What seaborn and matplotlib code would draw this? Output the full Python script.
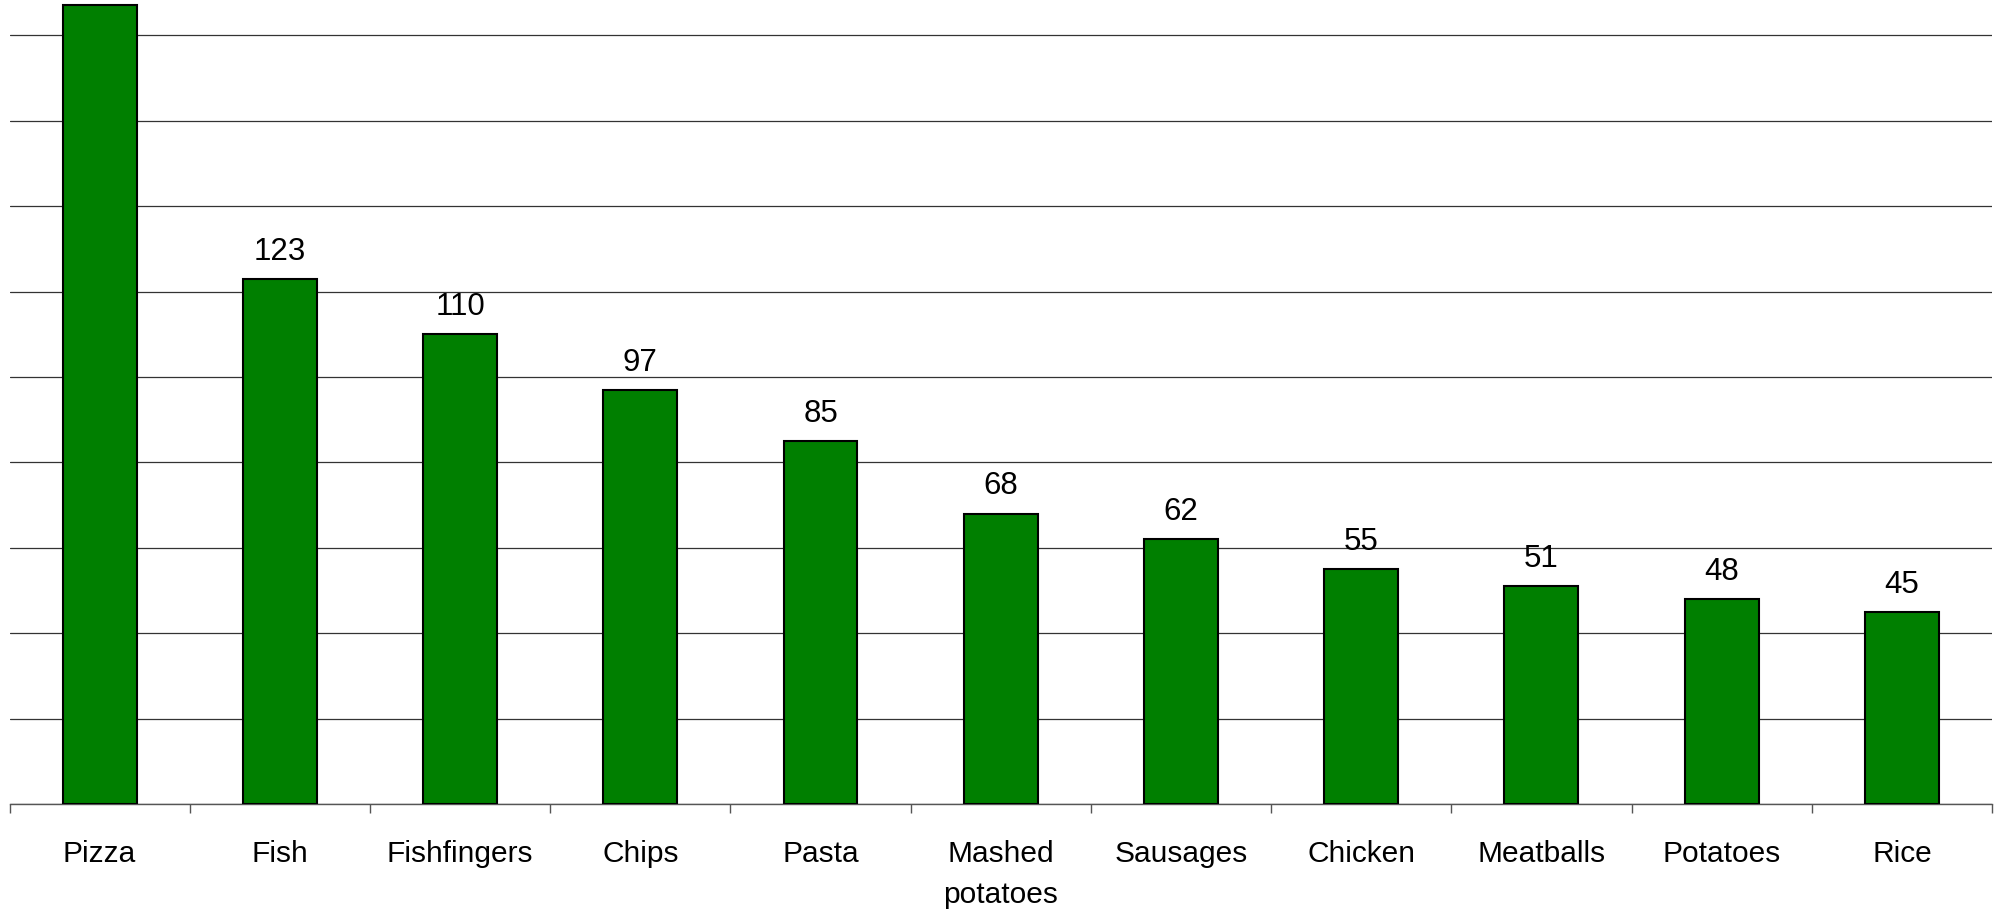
import matplotlib
matplotlib.use("Agg")
import matplotlib.pyplot as plt
import seaborn as sns
import pandas as pd
from matplotlib.ticker import FixedLocator, MultipleLocator

foods = ["Pizza", "Fish", "Fishfingers", "Chips", "Pasta", "Mashed\npotatoes",
         "Sausages", "Chicken", "Meatballs", "Potatoes", "Rice"]
counts = [187, 123, 110, 97, 85, 68, 62, 55, 51, 48, 45]
shown_labels = ["", "123", "110", "97", "85", "68", "62", "55", "51", "48", "45"]

df = pd.DataFrame({"food": foods, "count": counts})

sns.set_style("white")
plt.rcParams["font.family"] = ["Liberation Sans", "DejaVu Sans"]
plt.rcParams["text.color"] = "black"
plt.rcParams["xtick.color"] = "black"

fig = plt.figure(figsize=(20.04, 9.12), dpi=100)
ax = fig.add_axes([9.5 / 2004, 107 / 912, (1992 - 9.5) / 2004, 805 / 912])

sns.barplot(data=df, x="food", y="count", color="#007F00", saturation=1,
            width=0.41, edgecolor="black", linewidth=1.5, ax=ax, zorder=3)

ax.bar_label(ax.containers[0], labels=shown_labels, padding=9.5,
             fontsize=22.5, color="black")

ax.set_ylim(0, 188.5)
ax.set_xlim(-0.5, len(foods) - 0.5)

# horizontal gridlines every 20 units
ax.yaxis.set_major_locator(MultipleLocator(20))
ax.yaxis.grid(True, color="#333333", linewidth=0.9, zorder=0)
ax.set_axisbelow(True)
ax.tick_params(axis="y", left=False, labelleft=False)

# category labels centred, tick marks at the boundaries between categories
ax.tick_params(axis="x", which="major", length=0, pad=25, labelsize=21.5,
               labelcolor="black")
for lbl in ax.get_xticklabels():
    lbl.set_linespacing(1.62)
ax.xaxis.set_minor_locator(FixedLocator([i - 0.5 for i in range(len(foods) + 1)]))
ax.tick_params(axis="x", which="minor", length=6.5, width=1.0, color="#555555",
               direction="out", bottom=True)

ax.set_xlabel("")
ax.set_ylabel("")
for side in ["left", "right", "top"]:
    ax.spines[side].set_visible(False)
ax.spines["bottom"].set_color("#555555")
ax.spines["bottom"].set_linewidth(1.0)

fig.savefig("out.png", dpi=100)
